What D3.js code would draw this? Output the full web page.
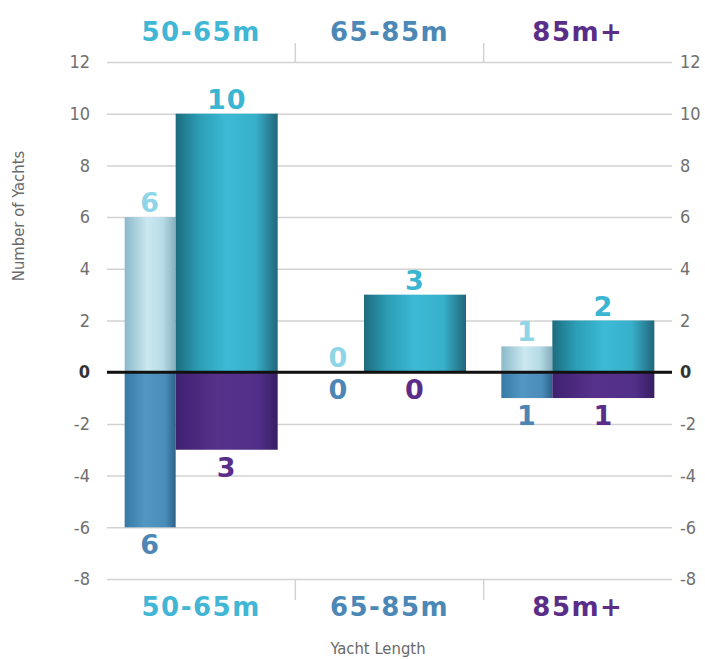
<!DOCTYPE html>
<html>
<head>
<meta charset="utf-8">
<script src="https://cdn.jsdelivr.net/npm/d3@7"></script>
<style>
  body { margin: 0; background: #fff; }
  .tick text { font-family: "Liberation Sans Narrow", "DejaVu Sans Condensed", sans-serif; }
</style>
</head>
<body>
<svg id="chart"></svg>
<script>
// data
var categories = ["50-65m", "65-85m", "85m+"];
var lightUp = [6, 0, 1];      // narrow bar, above zero
var tealUp = [10, 3, 2];      // wide bar, above zero
var blueDown = [6, 0, 1];     // narrow bar, below zero
var purpleDown = [3, 0, 1];   // wide bar, below zero
var yTicks = [12, 10, 8, 6, 4, 2, 0, -2, -4, -6, -8];

var width = 705, height = 659;
var plotLeft = 107, plotRight = 672, plotTop = 62, plotBottom = 579;

var svg = d3.select("#chart")
    .attr("width", width)
    .attr("height", height);

var defs = svg.append("defs");
function grad(id, stops) {
    var g = defs.append("linearGradient").attr("id", id)
        .attr("x1", 0).attr("x2", 1).attr("y1", 0).attr("y2", 0);
    stops.forEach(s => g.append("stop").attr("offset", s[0]).attr("stop-color", s[1]));
}
grad("gLight", [[0, "#8ab9ca"], [0.45, "#cbe8f0"], [0.75, "#b6dce7"], [1, "#85adbd"]]);
grad("gTeal", [[0, "#1c6c7e"], [0.22, "#2b9cb4"], [0.5, "#3cbad5"], [0.78, "#37b0ca"], [1, "#21667a"]]);
grad("gBlue", [[0, "#377aa6"], [0.4, "#5296c3"], [0.8, "#4a8cba"], [1, "#2c6388"]]);
grad("gPurple", [[0, "#3f2171"], [0.4, "#57318b"], [0.8, "#52308a"], [1, "#391e64"]]);

var yScale = d3.scaleLinear().domain([-8, 12]).range([plotBottom, plotTop]);
var xScale = d3.scaleBand().domain(categories).range([plotLeft, plotRight])
    .paddingInner(0.1875).paddingOuter(0.09375);
var sub = d3.scaleLinear().domain([0, 3]).range([0, xScale.bandwidth()]);

// gridlines
svg.append("g")
    .attr("transform", "translate(" + plotLeft + ",0)")
    .call(d3.axisLeft(yScale).tickValues(yTicks).tickSize(-(plotRight - plotLeft)).tickFormat(""))
    .call(g => g.select(".domain").remove())
    .selectAll("line").attr("stroke", "#d2d2d2").attr("stroke-width", 1.5);

// tick labels both sides
function styleTicks(g) {
    g.select(".domain").remove();
    g.selectAll("text")
        .attr("font-size", 18)
        .attr("fill", d => d === 0 ? "#333" : "#707070")
        .attr("font-weight", d => d === 0 ? "bold" : "normal");
}
svg.append("g")
    .attr("transform", "translate(" + plotLeft + ",0)")
    .call(d3.axisLeft(yScale).tickValues(yTicks).tickSize(0).tickPadding(17).tickFormat(d => String(d)))
    .call(styleTicks);
svg.append("g")
    .attr("transform", "translate(" + plotRight + ",0)")
    .call(d3.axisRight(yScale).tickValues(yTicks).tickSize(0).tickPadding(8).tickFormat(d => String(d)))
    .call(styleTicks);

// series
var series = [
    { values: lightUp, dir: 1, slot: [0, 1], fill: "url(#gLight)", color: "#8fd5e8" },
    { values: tealUp, dir: 1, slot: [1, 3], fill: "url(#gTeal)", color: "#3ab5d2" },
    { values: blueDown, dir: -1, slot: [0, 1], fill: "url(#gBlue)", color: "#4b86b4" },
    { values: purpleDown, dir: -1, slot: [1, 3], fill: "url(#gPurple)", color: "#5a2d8b" }
];

series.forEach(function(s) {
    var rows = categories.map((c, i) => ({ cat: c, v: s.values[i] }));
    var g = svg.append("g");
    g.selectAll("rect")
        .data(rows)
        .enter()
        .append("rect")
        .attr("x", d => xScale(d.cat) + sub(s.slot[0]))
        .attr("width", sub(s.slot[1]) - sub(s.slot[0]))
        .attr("y", d => s.dir > 0 ? yScale(d.v) : yScale(0))
        .attr("height", d => Math.abs(yScale(0) - yScale(d.v * s.dir)))
        .attr("fill", s.fill);
    g.selectAll("text")
        .data(rows)
        .enter()
        .append("text")
        .attr("x", d => xScale(d.cat) + (sub(s.slot[0]) + sub(s.slot[1])) / 2)
        .attr("y", d => s.dir > 0 ? yScale(d.v) - 5 : yScale(-d.v) + 27)
        .attr("text-anchor", "middle")
        .attr("font-family", "DejaVu Sans, sans-serif")
        .attr("font-weight", "bold")
        .attr("font-size", 27)
        .attr("letter-spacing", 1)
        .attr("fill", s.color)
        .text(d => d.v);
});

// zero line
svg.append("line")
    .attr("x1", plotLeft).attr("x2", plotRight)
    .attr("y1", yScale(0)).attr("y2", yScale(0))
    .attr("stroke", "#111").attr("stroke-width", 3);

// category headers top and bottom
var headColor = d3.scaleOrdinal().domain(categories).range(["#41b6d5", "#4c88b6", "#5a2e88"]);
[[41, plotTop - 19, plotTop], [616, plotBottom, plotBottom + 21]].forEach(function(p) {
    svg.append("g").selectAll("text")
        .data(categories)
        .enter()
        .append("text")
        .attr("x", d => xScale(d) + xScale.bandwidth() / 2)
        .attr("y", p[0])
        .attr("text-anchor", "middle")
        .attr("font-family", "DejaVu Sans, sans-serif")
        .attr("font-weight", "bold")
        .attr("font-size", 26)
        .attr("letter-spacing", 1.5)
        .attr("fill", d => headColor(d))
        .text(d => d);
    svg.append("g").selectAll("line")
        .data(categories.slice(1))
        .enter()
        .append("line")
        .attr("x1", d => xScale(d) - xScale.step() * xScale.paddingInner() / 2)
        .attr("x2", d => xScale(d) - xScale.step() * xScale.paddingInner() / 2)
        .attr("y1", p[1]).attr("y2", p[2])
        .attr("stroke", "#d2d2d2").attr("stroke-width", 1.5);
});

// axis titles
svg.append("text")
    .attr("transform", "translate(24,216) rotate(-90)")
    .attr("text-anchor", "middle")
    .attr("font-family", "Liberation Sans Narrow, DejaVu Sans Condensed, sans-serif")
    .attr("font-size", 16.5)
    .attr("fill", "#6a6a6a")
    .text("Number of Yachts");

svg.append("text")
    .attr("x", 378).attr("y", 654)
    .attr("text-anchor", "middle")
    .attr("font-family", "Liberation Sans Narrow, DejaVu Sans Condensed, sans-serif")
    .attr("font-size", 16.5)
    .attr("fill", "#6a6a6a")
    .text("Yacht Length");
</script>
</body>
</html>
